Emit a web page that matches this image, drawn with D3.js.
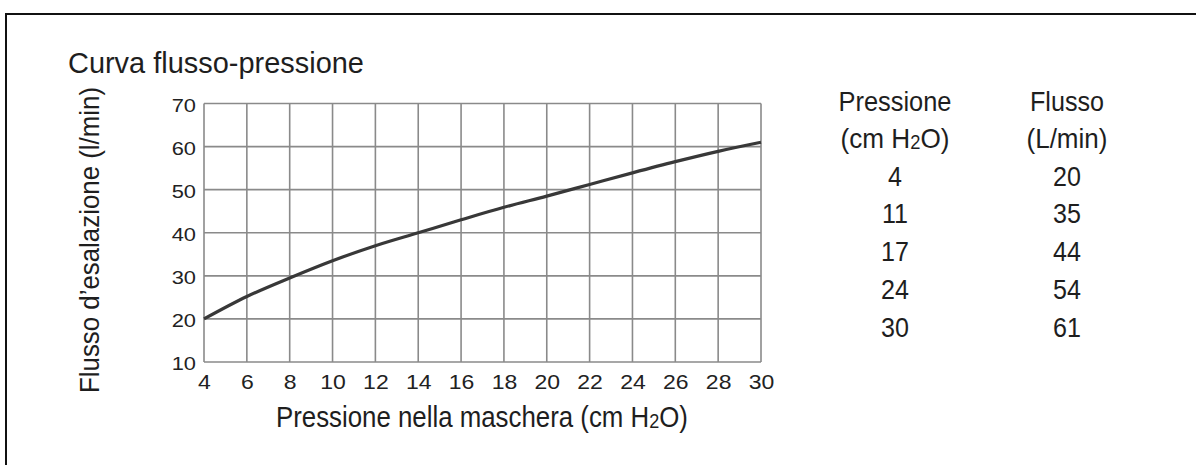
<!DOCTYPE html>
<html>
<head>
<meta charset="utf-8">
<script src="https://cdn.jsdelivr.net/npm/d3@7"></script>
<style>
  body { margin: 0; background: #fff; }
  svg { display: block; }
  .cond { font-family: "Liberation Sans", Arial, sans-serif; fill: #1e1e1e; }
  .tick text { font-family: "Liberation Sans", Arial, sans-serif; fill: #222; }
</style>
</head>
<body>
<svg></svg>
<script>
// values, every 2 cm H2O
let pressure = [4, 6, 8, 10, 12, 14, 16, 18, 20, 22, 24, 26, 28, 30];
let flow = [20, 25.2, 29.5, 33.5, 37.0, 40.0, 43.0, 45.9, 48.5, 51.2, 53.9, 56.5, 58.9, 61.0];

let xTicks = [4, 6, 8, 10, 12, 14, 16, 18, 20, 22, 24, 26, 28, 30];
let yTicks = [10, 20, 30, 40, 50, 60, 70];

// table on the right
let tablePressure = ["4", "11", "17", "24", "30"];
let tableFlow = ["20", "35", "44", "54", "61"];

let width = 1196;
let height = 465;
let plot = { left: 204, right: 761, top: 103.5, bottom: 362 };

let svg = d3.select('svg')
    .attr('width', width)
    .attr('height', height);

// squeeze a text horizontally to a given width, around its anchor x
let squeeze = (sel, x, w) => {
    let len = sel.node().getComputedTextLength();
    if (len > w) {
        sel.attr('transform', 'translate(' + x + ',0) scale(' + (w / len) + ',1) translate(' + (-x) + ',0)');
    }
}

// frame (top and left only, the rest runs off the picture)
svg.append('path')
    .attr('d', 'M6,' + (height + 5) + ' V14 H' + (width + 5))
    .attr('fill', 'none')
    .attr('stroke', '#111')
    .attr('stroke-width', 2);

let xScale = d3.scaleLinear()
    .domain([4, 30])
    .range([plot.left, plot.right]);

let yScale = d3.scaleLinear()
    .domain([10, 70])
    .range([plot.bottom, plot.top]);

// grid
let grid = svg.append('g').attr('stroke', '#8a8a8a').attr('stroke-width', 1.6);
grid.selectAll('.v')
    .data(xTicks)
    .enter()
    .append('line')
    .attr('x1', d => xScale(d))
    .attr('x2', d => xScale(d))
    .attr('y1', plot.top)
    .attr('y2', plot.bottom);
grid.selectAll('.h')
    .data(yTicks)
    .enter()
    .append('line')
    .attr('x1', plot.left)
    .attr('x2', plot.right)
    .attr('y1', d => yScale(d))
    .attr('y2', d => yScale(d));

// axes, only labels (tick digits are wider than plain Arial)
let xAxis = d3.axisBottom(xScale).tickValues(xTicks).tickSize(0).tickPadding(13);
let yAxis = d3.axisLeft(yScale).tickValues(yTicks).tickSize(0).tickPadding(7);

let gx = svg.append('g')
    .attr('transform', 'translate(0,' + plot.bottom + ')')
    .call(xAxis);
gx.select('.domain').remove();
gx.selectAll('text')
    .attr('font-size', 20)
    .attr('transform', 'scale(1.15,1)');

let gy = svg.append('g')
    .attr('transform', 'translate(' + plot.left + ',0)')
    .call(yAxis);
gy.select('.domain').remove();
gy.selectAll('text')
    .attr('font-size', 19)
    .attr('dy', '0.4em')
    .attr('transform', 'scale(1.15,1)');

// curve
let line = d3.line()
    .x((d, i) => xScale(pressure[i]))
    .y(d => yScale(d))
    .curve(d3.curveMonotoneX);

svg.append('path')
    .datum(flow)
    .attr('d', line)
    .attr('fill', 'none')
    .attr('stroke', '#383838')
    .attr('stroke-width', 3.2);

// titles
let title = svg.append('text')
    .attr('class', 'cond')
    .attr('x', 68)
    .attr('y', 73)
    .attr('font-size', 29)
    .text('Curva flusso-pressione');
squeeze(title, 68, 296);

svg.append('text')
    .attr('class', 'cond')
    .attr('transform', 'translate(99,' + 240 + ') rotate(-90)')
    .attr('text-anchor', 'middle')
    .attr('font-size', 27)
    .attr('textLength', 306)
    .attr('lengthAdjust', 'spacingAndGlyphs')
    .text('Flusso d\u2019esalazione (l/min)');

let xLabel = svg.append('text')
    .attr('class', 'cond')
    .attr('x', 276)
    .attr('y', 427)
    .attr('font-size', 30);
xLabel.append('tspan').text('Pressione nella maschera (cm H');
xLabel.append('tspan').attr('font-size', 21).attr('dy', 1).text('2');
xLabel.append('tspan').attr('dy', -1).text('O)');
squeeze(xLabel, 276, 412);

// table
let colP = 895;
let colF = 1067;
let rowY = [111, 148, 186, 223, 261, 299, 337];

let tbl = svg.append('g').attr('class', 'cond').attr('font-size', 28.5).attr('text-anchor', 'middle');

let headP = tbl.append('text').attr('x', colP).attr('y', rowY[0]).text('Pressione');
squeeze(headP, colP, 113);
let unitP = tbl.append('text').attr('x', colP).attr('y', rowY[1]);
unitP.append('tspan').text('(cm H');
unitP.append('tspan').attr('font-size', 20).attr('dy', 1).text('2');
unitP.append('tspan').attr('dy', -1).text('O)');
squeeze(unitP, colP, 109);

let headF = tbl.append('text').attr('x', colF).attr('y', rowY[0]).text('Flusso');
squeeze(headF, colF, 74);
let unitF = tbl.append('text').attr('x', colF).attr('y', rowY[1]).text('(L/min)');
squeeze(unitF, colF, 81);

tbl.selectAll('.p')
    .data(tablePressure)
    .enter()
    .append('text')
    .attr('x', colP)
    .attr('y', (d, i) => rowY[i + 2])
    .text(d => d)
    .each(function () { squeeze(d3.select(this), colP, this.getComputedTextLength() * 0.88); });

tbl.selectAll('.f')
    .data(tableFlow)
    .enter()
    .append('text')
    .attr('x', colF)
    .attr('y', (d, i) => rowY[i + 2])
    .text(d => d)
    .each(function () { squeeze(d3.select(this), colF, this.getComputedTextLength() * 0.88); });
</script>
</body>
</html>
